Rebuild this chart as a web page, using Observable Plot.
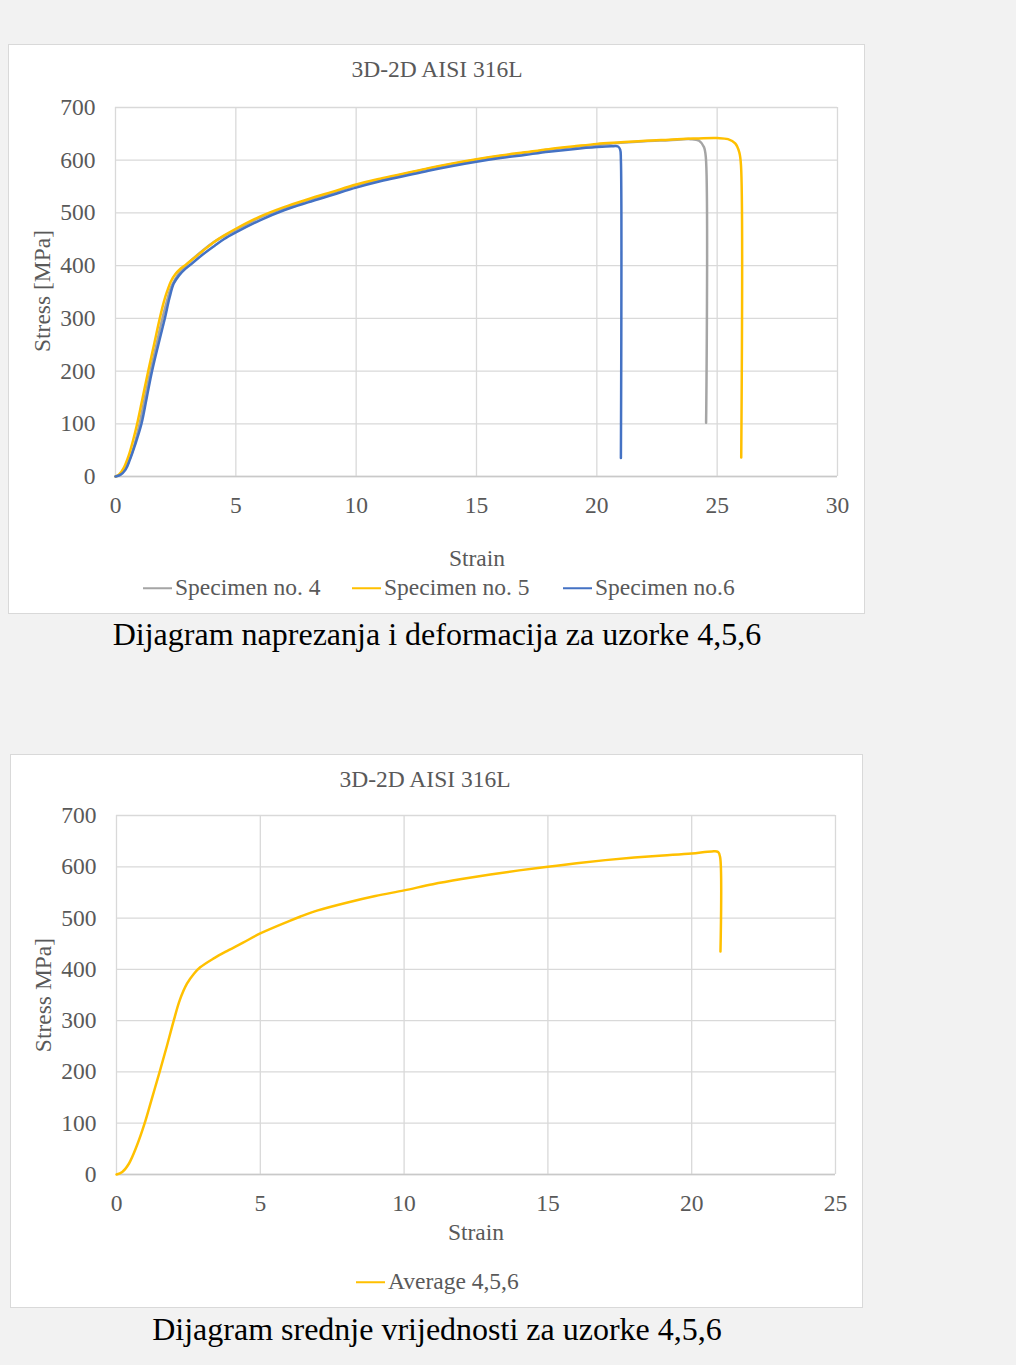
<!DOCTYPE html>
<html>
<head>
<meta charset="utf-8">
<script src="https://cdn.jsdelivr.net/npm/d3@7"></script>
<script src="https://cdn.jsdelivr.net/npm/@observablehq/plot@0.6"></script>
<style>
  html, body { margin: 0; padding: 0; }
  body { width: 1016px; height: 1365px; background: #f2f2f2; position: relative; overflow: hidden;
         font-family: "Liberation Serif", "Times New Roman", serif; }
  .box { position: absolute; background: #fff; box-sizing: border-box; border: 1px solid #d9d9d9; }
  .holder { position: absolute; }
  .holder svg { position: absolute; left: 0; top: 0; }
  .t { position: absolute; white-space: nowrap; line-height: 1; transform: translate(-50%, -50%); color: #595959; font-size: 23.5px; }
  .rot { transform: translate(-50%, -50%) rotate(-90deg); }
  .cap { color: #000; font-size: 32px; }
  .leg { position: absolute; display: flex; align-items: center; transform: translateY(-50%); color: #595959; font-size: 23.5px; line-height: 1; white-space: nowrap; }
  .sw { width: 29px; height: 2.5px; margin-right: 3px; }
</style>
</head>
<body>
<script>
// ---------- data ----------
const seriesNames = ["Specimen no. 4", "Specimen no. 5", "Specimen no.6"];
const seriesColors = ["#a5a5a5", "#ffc000", "#4472c4"];

const strain4 = [0, 0.2, 0.4, 0.6, 0.8, 1.0, 1.22, 1.45, 1.7, 1.95, 2.15, 2.3, 2.5, 2.75, 3.0, 3.5, 4, 4.5, 5, 6, 7, 8, 9, 10, 11, 12, 13, 14, 15, 16, 17, 18, 19, 20, 21, 22, 23, 23.9, 24.25, 24.45, 24.53, 24.54];
const stress4 = [0, 4, 14, 34, 62, 100, 150, 200, 250, 300, 335, 358, 376, 392, 404, 424, 442, 456, 468, 491, 509, 524, 538, 552, 563, 574, 584, 593, 601, 608, 614, 620, 625, 629, 633, 636, 638, 640, 637, 625, 605, 102];

const strain5 = [0, 0.15, 0.35, 0.55, 0.75, 0.9, 1.13, 1.36, 1.6, 1.84, 2.0, 2.15, 2.3, 2.49, 2.7, 2.9, 3.2, 3.6, 4.1, 4.5, 5, 6, 7, 8, 9, 10, 11, 12, 13, 14, 15, 16, 17, 18, 19, 20, 21, 22, 23, 24, 25, 25.45, 25.75, 25.92, 25.99, 26.0];
const stress5 = [0, 4, 17, 40, 72, 100, 150, 200, 250, 300, 330, 352, 370, 384, 394, 401, 412, 427, 445, 457, 470, 493, 511, 526, 540, 554, 565, 575, 585, 594, 602, 609, 615, 621, 626, 631, 634, 637, 639, 641, 642, 640, 632, 615, 590, 36];

const strain6 = [0, 0.2, 0.42, 0.6, 0.8, 1.08, 1.3, 1.52, 1.78, 2.05, 2.25, 2.42, 2.65, 2.9, 3.2, 3.6, 4.1, 4.5, 5, 6, 7, 8, 9, 10, 11, 12, 13, 14, 15, 16, 17, 18, 19, 20, 20.6, 20.88, 20.97, 21.0, 21.0];
const stress6 = [0, 3, 13, 32, 58, 100, 150, 200, 250, 300, 340, 366, 382, 394, 405, 420, 437, 450, 463, 486, 505, 520, 534, 548, 560, 570, 580, 589, 597, 604, 610, 616, 621, 625, 626.5, 626, 620, 600, 35];

const avgName = "Average 4,5,6";
const strainAvg = [0, 0.2, 0.43, 0.7, 0.98, 1.24, 1.5, 1.75, 1.99, 2.2, 2.45, 2.7, 2.91, 3.4, 3.78, 4.4, 5, 6, 6.4, 7, 8, 9, 10, 11, 12, 13, 14, 15, 16, 17, 18, 19, 20, 20.7, 20.92, 20.99, 21.0];
const stressAvg = [0, 5, 21, 55, 100, 150, 200, 250, 300, 340, 372, 392, 404, 422, 434, 452, 470, 494, 503, 515, 530, 543, 554, 566, 576, 585, 593, 600, 607, 613, 618, 622, 626, 630, 629, 618, 435];

const yTicks = [0, 100, 200, 300, 400, 500, 600, 700];
const xTicksTop = [0, 5, 10, 15, 20, 25, 30];
const xTicksBottom = [0, 5, 10, 15, 20, 25];

const chartTitle = "3D-2D AISI 316L";
const xLabel = "Strain";
const yLabelTop = "Stress [MPa]";
const yLabelBottom = "Stress  MPa]";
const caption1 = "Dijagram naprezanja i deformacija za uzorke 4,5,6";
const caption2 = "Dijagram srednje vrijednosti za uzorke 4,5,6";

// ---------- helpers ----------
function toRows(name, xs, ys) { return xs.map((x, i) => ({name, strain: x, stress: ys[i]})); }

function makeChart({xTicks, rows, names, colors, width, height, margins}) {
  return Plot.plot({
    width, height,
    marginLeft: margins[0], marginRight: margins[1], marginTop: margins[2], marginBottom: margins[3],
    style: {background: "transparent", fontFamily: '"Liberation Serif", "Times New Roman", serif', fontSize: "23.5px", color: "#595959", overflow: "visible"},
    x: {domain: [xTicks[0], xTicks[xTicks.length - 1]], ticks: xTicks, label: null, tickSize: 0, tickPadding: 20},
    y: {domain: [0, 700], ticks: yTicks, label: null, tickSize: 0, tickPadding: 20},
    color: {domain: names, range: colors},
    marks: [
      Plot.ruleX(xTicks, {stroke: "#d9d9d9", strokeWidth: 1.3}),
      Plot.ruleY(yTicks, {stroke: "#d9d9d9", strokeWidth: 1.3}),
      Plot.ruleY([0], {stroke: "#c9c9c9", strokeWidth: 1.5}),
      Plot.line(rows, {x: "strain", y: "stress", z: "name", stroke: "name", strokeWidth: 2.5, curve: "catmull-rom", strokeLinejoin: "round"})
    ]
  });
}

function addEl(cls, text, x, y) {
  const d = document.createElement("div");
  d.className = cls;
  d.textContent = text;
  d.style.left = x + "px";
  d.style.top = y + "px";
  document.body.appendChild(d);
  return d;
}
function addLegend(name, color, x, y) {
  const d = document.createElement("div");
  d.className = "leg";
  d.style.left = x + "px";
  d.style.top = y + "px";
  const sw = document.createElement("div");
  sw.className = "sw";
  sw.style.background = color;
  const tx = document.createElement("span");
  tx.textContent = name;
  d.appendChild(sw); d.appendChild(tx);
  document.body.appendChild(d);
}
function addBox(x, y, w, h, svg) {
  const b = document.createElement("div");
  b.className = "box";
  Object.assign(b.style, {left: x + "px", top: y + "px", width: w + "px", height: h + "px"});
  document.body.appendChild(b);
  const hd = document.createElement("div");
  hd.className = "holder";
  Object.assign(hd.style, {left: x + "px", top: y + "px", width: w + "px", height: h + "px"});
  hd.appendChild(svg);
  document.body.appendChild(hd);
}

// ---------- top chart ----------
const rowsTop = [
  ...toRows(seriesNames[0], strain4, stress4),
  ...toRows(seriesNames[1], strain5, stress5),
  ...toRows(seriesNames[2], strain6, stress6)
];
const chartTop = makeChart({xTicks: xTicksTop, rows: rowsTop, names: seriesNames, colors: seriesColors,
  width: 857, height: 570, margins: [107, 28, 63, 138]});
addBox(8, 44, 857, 570, chartTop);
addEl("t", chartTitle, 437, 70);
addEl("t", xLabel, 477, 559);
addEl("t rot", yLabelTop, 43, 291);
addLegend(seriesNames[0], seriesColors[0], 143, 588);
addLegend(seriesNames[1], seriesColors[1], 352, 588);
addLegend(seriesNames[2], seriesColors[2], 563, 588);
addEl("t cap", caption1, 437, 634);

// ---------- bottom chart ----------
const rowsBottom = toRows(avgName, strainAvg, stressAvg);
const chartBottom = makeChart({xTicks: xTicksBottom, rows: rowsBottom, names: [avgName], colors: ["#ffc000"],
  width: 853, height: 554, margins: [106, 28, 61, 134]});
addBox(10, 754, 853, 554, chartBottom);
addEl("t", chartTitle, 425, 780);
addEl("t", xLabel, 476, 1233);
addEl("t rot", yLabelBottom, 44, 995);
addLegend(avgName, "#ffc000", 356, 1282);
addEl("t cap", caption2, 437, 1329);
</script>
</body>
</html>
